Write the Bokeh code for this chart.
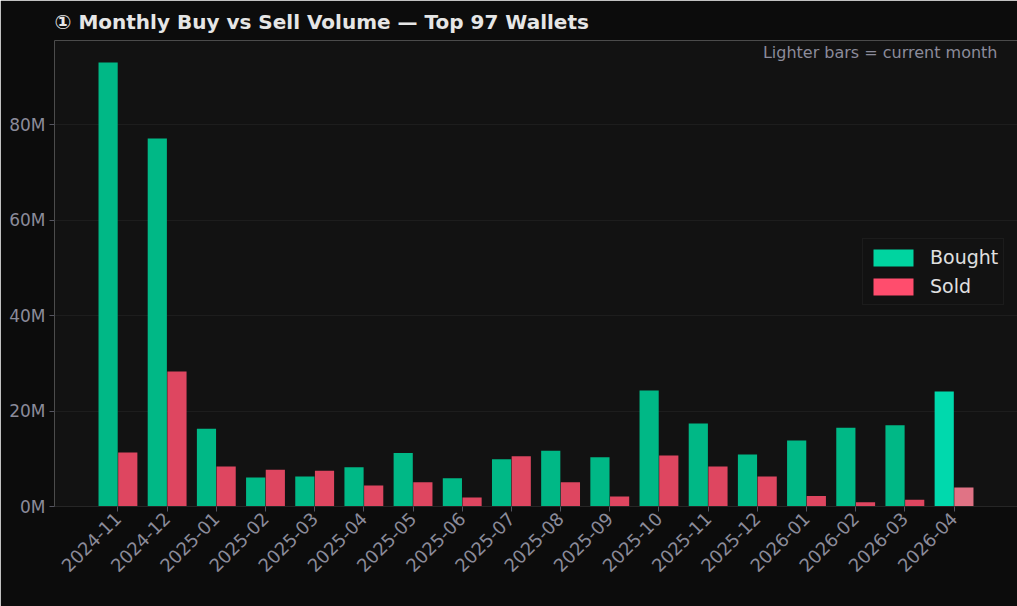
import math

from bokeh.embed import file_html
from bokeh.resources import INLINE
from bokeh.plotting import figure
from bokeh.models import (ColumnDataSource, FixedTicker, Label, Legend,
                          LegendItem, Range1d)

# Monthly traded volume for the top 97 wallets (USD)
months = ["2024-11", "2024-12", "2025-01", "2025-02", "2025-03", "2025-04",
          "2025-05", "2025-06", "2025-07", "2025-08", "2025-09", "2025-10",
          "2025-11", "2025-12", "2026-01", "2026-02", "2026-03", "2026-04"]
bought = [93.0e6, 77.1e6, 16.3e6, 6.1e6, 6.3e6, 8.2e6,
          11.2e6, 5.9e6, 9.9e6, 11.7e6, 10.3e6, 24.3e6,
          17.4e6, 10.9e6, 13.8e6, 16.5e6, 17.0e6, 24.1e6]
sold = [11.3e6, 28.3e6, 8.4e6, 7.7e6, 7.5e6, 4.4e6,
        5.1e6, 1.9e6, 10.5e6, 5.1e6, 2.1e6, 10.7e6,
        8.4e6, 6.3e6, 2.2e6, 0.9e6, 1.4e6, 4.0e6]
y_ticks = [0, 20e6, 40e6, 60e6, 80e6]
y_tick_labels = ["0M", "20M", "40M", "60M", "80M"]

FONT = "DejaVu Sans"
BG_OUTER = "#0c0c0c"
BG_PLOT = "#121212"
TICK_COLOR = "#8b8b9a"

BUY = "#00b886"
BUY_CURRENT = "#00d9ad"
SELL = "#de4660"
SELL_CURRENT = "#e07385"

n = len(months)
x = list(range(n))
buy_colors = [BUY] * (n - 1) + [BUY_CURRENT]
sell_colors = [SELL] * (n - 1) + [SELL_CURRENT]

source = ColumnDataSource(dict(
    x_buy=[i - 0.2 for i in x],
    x_sell=[i + 0.2 for i in x],
    bought=bought,
    sold=sold,
    buy_color=buy_colors,
    sell_color=sell_colors,
))

p = figure(width=1017, height=606, output_backend="svg", toolbar_location=None,
           x_range=Range1d(-1.29, n - 1 + 1.29), y_range=Range1d(0, 97.6e6),
           min_border_left=54, min_border_right=0, min_border_top=40,
           min_border_bottom=100)

p.background_fill_color = BG_PLOT
p.border_fill_color = BG_OUTER
p.outline_line_color = None

p.title.text = "\u2460 Monthly Buy vs Sell Volume \u2014 Top 97 Wallets"
p.title.text_font = FONT
p.title.text_font_size = "20px"
p.title.text_font_style = "bold"
p.title.text_color = "#e6e6e6"
p.title.align = "left"
p.title.standoff = 14

width = 0.39
p.vbar(x="x_buy", top="bought", width=width, source=source,
       fill_color="buy_color", line_color=None)
p.vbar(x="x_sell", top="sold", width=width, source=source,
       fill_color="sell_color", line_color=None)

# legend swatches in the full-strength series colours (kept off-range)
lg_buy = p.vbar(x=[-100], top=[0], width=width, fill_color="#00d4a0", line_color=None)
lg_sell = p.vbar(x=[-100], top=[0], width=width, fill_color="#ff4d6d", line_color=None)

legend = Legend(items=[LegendItem(label="Bought", renderers=[lg_buy]),
                       LegendItem(label="Sold", renderers=[lg_sell])],
                location=(808, 201))
legend.label_text_font = FONT
legend.label_text_font_size = "19px"
legend.label_text_color = "#e0e0e0"
legend.background_fill_color = BG_PLOT
legend.background_fill_alpha = 1.0
legend.border_line_color = "#262626"
legend.glyph_width = 50
legend.glyph_height = 21
legend.label_height = 26
legend.spacing = 3
legend.padding = 5
legend.margin = 0
legend.label_standoff = 12
p.add_layout(legend, "center")

note = Label(x=943, y=454, x_units="screen", y_units="screen",
             text="Lighter bars = current month", text_align="right",
             text_baseline="middle", text_font=FONT, text_font_size="16px",
             text_color=TICK_COLOR)
p.add_layout(note)

# axes
p.xaxis.ticker = FixedTicker(ticks=x)
p.xaxis.major_label_overrides = {i: m for i, m in zip(x, months)}
p.xaxis.major_label_orientation = math.pi / 4
p.yaxis.ticker = FixedTicker(ticks=y_ticks)
p.yaxis.major_label_overrides = {t: l for t, l in zip(y_ticks, y_tick_labels)}

for ax in (p.xaxis, p.yaxis):
    ax.major_label_text_font = FONT
    ax.major_label_text_font_size = "17px"
    ax.major_label_text_color = TICK_COLOR
    ax.major_tick_line_color = "#555560"
    ax.major_tick_out = 5
    ax.major_tick_in = 0
    ax.minor_tick_line_color = None
    ax.major_label_standoff = 4

p.xaxis.major_label_text_font_size = "18px"
p.xaxis.axis_line_color = "#262626"
p.yaxis.axis_line_color = None

p.xgrid.grid_line_color = None
p.ygrid.grid_line_color = "#1d1d1d"
p.ygrid.grid_line_width = 1

open("out.html", "w").write(file_html(p, INLINE))
